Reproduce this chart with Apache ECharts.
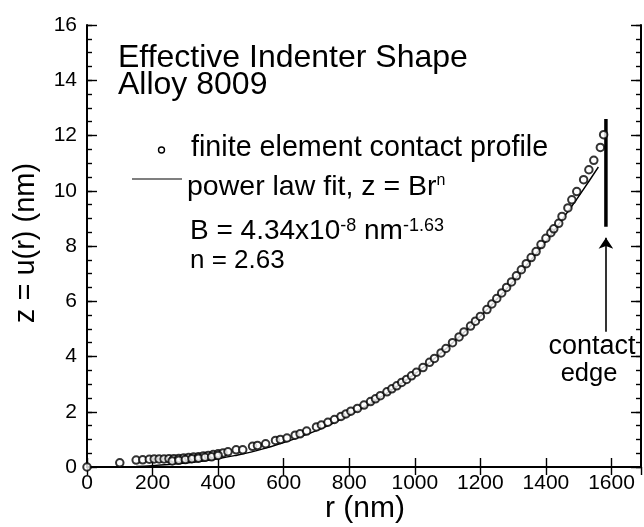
<!DOCTYPE html>
<html><head><meta charset="utf-8">
<script src="https://cdn.jsdelivr.net/npm/echarts@6/dist/echarts.min.js"></script>
<style>html,body{margin:0;padding:0;background:#fff}#c{width:644px;height:527px}</style>
</head><body><div id="c"></div>
<script>
// finite element contact profile (r nm, z nm)
var feR = [0,100,150,170,190,205,220,235,250,265,280,295,310,325,340,355,370,385,400,415,
  260,280,300,320,340,360,380,400,
  430,455,475,505,520,545,575,590,610,635,650,670,700,715,735,755,775,790,805,825,845,865,880,895,915,930,945,960,975,990,
  1005,1025,1045,1060,1080,1095,1115,1135,1150,1170,1185,1200,1220,1235,1250,1265,1280,1295,1310,1325,1340,1355,1370,1385,1400,1415,1424,1439,1449,1467,1479,1494,1515,1531,1546,1566,1576];
var feZ = [0,0.15,0.25,0.26,0.28,0.29,0.29,0.29,0.30,0.30,0.31,0.33,0.34,0.36,0.37,0.40,0.42,0.45,0.48,0.51,
  0.22,0.24,0.27,0.30,0.32,0.35,0.37,0.42,
  0.55,0.62,0.62,0.75,0.78,0.84,0.96,1.00,1.05,1.15,1.20,1.30,1.45,1.52,1.62,1.72,1.83,1.92,2.02,2.12,2.24,2.37,2.47,2.58,2.72,2.83,2.94,3.06,3.17,3.30,
  3.43,3.60,3.79,3.93,4.13,4.29,4.50,4.71,4.89,5.10,5.28,5.45,5.70,5.90,6.10,6.30,6.50,6.70,6.92,7.14,7.36,7.58,7.80,8.05,8.28,8.48,8.62,8.82,9.07,9.38,9.67,9.97,10.40,10.76,11.10,11.57,12.03];
// power law fit line
var fitR = [150,200,250,300,350,400,450,500,550,600,650,700,750,800,850,900,950,1000,1050,1100,1150,1200,1250,1300,1350,1400,1450,1500,1560];
var fitZ = [0.02,0.05,0.09,0.14,0.21,0.30,0.41,0.54,0.70,0.88,1.09,1.32,1.58,1.88,2.20,2.56,2.95,3.37,3.83,4.33,4.87,5.45,6.07,6.72,7.43,8.17,8.97,9.80,10.86];
// contact edge marker
var edgeR = [1583,1583];
var edgeZ = [8.7,12.6];
var arrowR = [1583,1583];
var arrowZ = [4.9,8.3];
var xTicks = [0,200,400,600,800,1000,1200,1400,1600];
var yTicks = [0,2,4,6,8,10,12,14,16];

function pairs(a,b){return a.map(function(v,i){return [v,b[i]];});}
var F = '"Liberation Sans", Arial, Helvetica, sans-serif';
var chart = echarts.init(document.getElementById('c'));
var axLine = {show:true, lineStyle:{color:'#000', width:2}};
var noLine = {show:false};
var tk = function(len){return {show:true, inside:true, length:len, lineStyle:{color:'#000', width:1.4}};};
function txt(x, y, s, size, extra){
  var o = {type:'text', x:x, y:y, style:{text:s, fontFamily:F, fontSize:size, fill:'#000', verticalAlign:'middle'}};
  if (extra) { for (var k in extra) { if (k === 'style') { for (var j in extra.style) o.style[j] = extra.style[j]; } else o[k] = extra[k]; } }
  return o;
}
chart.setOption({
  animation:false,
  backgroundColor:'#fff',
  grid:{left:87, right:3, top:25, bottom:60},
  xAxis:[
    {type:'value', min:0, max:1690, interval:200, position:'bottom',
     axisLine:axLine, axisTick:tk(9),
     axisLabel:{color:'#000', fontFamily:F, fontSize:21, margin:6, showMaxLabel:false,
       formatter:function(v){return xTicks.indexOf(v) >= 0 ? String(v) : '';}},
     splitLine:{show:false}},
    {type:'value', min:0, max:1690, interval:200, position:'top',
     axisLine:axLine, axisTick:tk(8),
     axisLabel:{show:false}, splitLine:{show:false}}
  ],
  yAxis:[
    {type:'value', min:0, max:16, interval:2, position:'left',
     axisLine:axLine, axisTick:tk(10),
     axisLabel:{color:'#000', fontFamily:F, fontSize:21, margin:10,
       formatter:function(v){return yTicks.indexOf(v) >= 0 ? String(v) : '';}},
     splitLine:{show:false}},
    {type:'value', min:0, max:16, interval:0.5, position:'left',
     axisLine:noLine, axisTick:tk(5), axisLabel:{show:false}, splitLine:{show:false}},
    {type:'value', min:0, max:16, interval:2, position:'right',
     axisLine:axLine, axisTick:tk(10), axisLabel:{show:false}, splitLine:{show:false}},
    {type:'value', min:0, max:16, interval:0.5, position:'right',
     axisLine:noLine, axisTick:tk(5), axisLabel:{show:false}, splitLine:{show:false}}
  ],
  series:[
    {type:'line', data:pairs(fitR,fitZ), showSymbol:false, smooth:true, lineStyle:{color:'#000', width:1.4}, z:2},
    {type:'scatter', data:pairs(feR,feZ), symbol:'emptyCircle', symbolSize:7.5,
     itemStyle:{color:'#000', borderColor:'#000', borderWidth:1.4}, z:3},
    {type:'line', data:pairs(edgeR,edgeZ), showSymbol:false, lineStyle:{color:'#000', width:3.5}},
    {type:'lines', coordinateSystem:'cartesian2d', symbol:['none','arrow'], symbolSize:11,
     lineStyle:{color:'#000', width:1.6, opacity:1},
     data:[{coords:pairs(arrowR,arrowZ)}]}
  ],
  graphic:[
    txt(118, 58, 'Effective Indenter Shape', 32),
    txt(118, 85, 'Alloy 8009', 32),
    {type:'circle', shape:{cx:161.5, cy:150, r:3}, style:{fill:'#fff', stroke:'#000', lineWidth:1.4}},
    txt(191, 148, 'finite element contact profile', 28.7),
    {type:'line', shape:{x1:132, y1:179, x2:182, y2:179}, style:{stroke:'#000', lineWidth:1.2}},
    {type:'text', x:187, y:187, style:{verticalAlign:'middle', rich:{a:{fontFamily:F, fontSize:28.5, fill:'#000'}, s:{fontFamily:F, fontSize:16, fill:'#000', verticalAlign:'top'}}, text:'{a|power law fit, z = Br}{s|n}'}},
    {type:'text', x:190, y:231, style:{verticalAlign:'middle', rich:{a:{fontFamily:F, fontSize:28, fill:'#000'}, s:{fontFamily:F, fontSize:18, fill:'#000', verticalAlign:'top'}}, text:'{a|B = 4.34x10}{s|-8}{a| nm}{s|-1.63}'}},
    txt(190, 261, 'n = 2.63', 26),
    txt(592, 347, 'contact', 27, {style:{align:'center'}}),
    txt(589, 374, 'edge', 25.5, {style:{align:'center'}}),
    txt(365, 509, 'r (nm)', 30, {style:{align:'center'}}),
    txt(26, 243, 'z = u(r) (nm)', 29, {rotation:Math.PI/2, style:{align:'center'}})
  ]
});
</script></body></html>
